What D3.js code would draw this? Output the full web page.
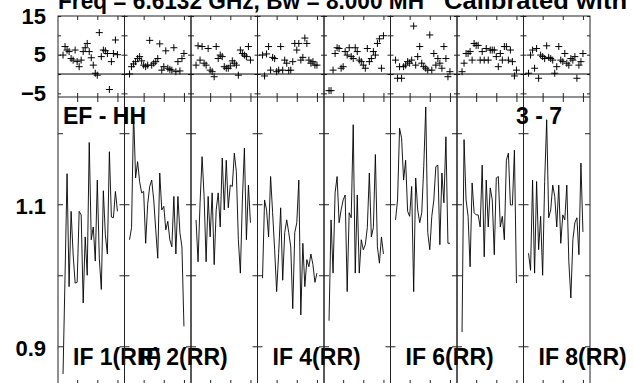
<!DOCTYPE html>
<html>
<head>
<meta charset="utf-8">
<script src="https://cdn.jsdelivr.net/npm/d3@7"></script>
<style>
  body { margin: 0; background: #fff; }
  text { font-family: "Liberation Sans", Arial, Helvetica, sans-serif; font-weight: bold; fill: #000; }
</style>
</head>
<body>
<svg id="chart" width="634" height="383"></svg>
<script>
// channels plotted in every IF (edge channels flagged)
var channels = d3.range(3, 31)

var ifLabels = ["IF 1(RR)", "IF 2(RR)", "", "IF 4(RR)", "", "IF 6(RR)", "", "IF 8(RR)"]

// phase (degrees) per IF
var phase1 = [4.9, 7.1, 6.2, 5.8, 4.0, 3.6, 6.2, 3.2, 1.9, 3.6, 5.8, 6.8, 7.9, 5.8, 4.2, 2.3, 0.2, -0.3, 10.7, 4.5, 6.2, 6.0, 5.3, -4.0, 3.2, 5.3, 8.8, 5.0]
var phase2 = [0.0, 1.9, 2.6, 3.2, 4.0, 4.5, 3.4, 2.3, 1.9, 2.3, 8.7, 2.3, 2.8, 3.2, 4.0, 7.8, 1.0, 1.9, 6.0, 1.5, 1.2, 1.0, 6.8, 0.6, 3.2, 0.8, 4.0, 5.3]
var phase3 = [2.3, 7.3, 3.6, 7.1, 2.8, 2.3, 6.6, 1.0, 0.6, -0.7, 7.1, 4.0, 4.9, 4.5, 1.9, 1.5, 1.5, 2.1, 3.4, 2.8, 2.3, -0.3, 6.2, 5.3, 4.9, 4.5, 7.1, 3.6]
var phase4 = [4.9, -0.5, 5.2, 7.1, 1.0, 4.3, 4.0, 0.6, 1.0, 7.1, 1.0, 3.6, 2.8, 0.9, 1.0, 3.2, 7.9, 6.2, 7.9, 3.6, 4.3, 9.3, 7.9, 3.6, 2.8, 3.2, 2.3, 2.3]
var phase5 = [-4.3, -4.3, 1.0, 5.3, 6.8, 6.6, 1.5, 1.9, 5.8, 4.9, 6.8, 4.5, 4.0, 6.8, 5.8, 3.6, 3.2, 2.3, 1.5, 6.6, 3.2, 4.0, 5.8, 4.9, 7.9, 9.1, 1.5, 9.9]
var phase6 = [3.6, -1.1, 1.9, -1.1, 1.9, 2.3, 3.2, 2.8, 3.6, 12.4, 2.3, 4.5, 7.1, 2.8, 1.9, 1.5, 1.0, 10.1, 1.0, 5.3, 2.3, 4.0, 2.8, 1.5, 7.1, 4.0, -0.7, 0.6]
var phase7 = [0.6, 2.8, 5.3, 5.3, 5.8, 3.6, 7.9, 7.4, 7.4, 3.6, 5.8, 3.6, 6.6, 3.6, 6.2, 6.2, 6.2, 4.5, 1.9, 5.3, 3.6, 7.1, 7.1, 3.6, 6.2, 3.2, -0.5, 1.0]
var phase8 = [0.2, 4.9, 6.2, 1.5, 6.6, -1.1, 4.9, 4.5, 4.0, 7.3, 4.3, 4.0, 3.6, 0.2, 1.9, 7.1, 3.6, 3.2, 5.3, 2.8, 2.3, 4.0, 3.6, 4.5, -1.1, 2.3, 3.2, 5.3]

// amplitude per IF
var amp1 = [0.861, 1.00, 1.143, 0.984, 1.09, 1.03, 0.989, 0.99, 1.09, 1.085, 0.961, 1.054, 1.00, 1.187, 1.05, 1.068, 1.02, 1.134, 1.024, 0.98, 1.119, 1.057, 1.03, 1.174, 1.082, 1.081, 1.118, 1.09]
var amp2 = [1.05, 1.067, 1.23, 1.137, 1.16, 1.132, 1.116, 1.118, 1.045, 1.10, 1.125, 1.134, 1.106, 1.064, 1.024, 1.144, 1.092, 1.097, 1.064, 1.076, 1.05, 1.04, 1.111, 1.03, 1.111, 1.06, 1.04, 0.928]
var amp3 = [1.078, 1.019, 1.102, 1.167, 1.111, 1.019, 1.111, 1.054, 1.116, 1.015, 1.092, 1.116, 1.068, 1.165, 1.092, 1.162, 1.095, 1.127, 1.125, 1.172, 1.146, 1.05, 1.003, 1.106, 1.179, 1.05, 1.127, 1.074]
var amp4 = [0.996, 1.106, 1.092, 1.054, 1.139, 1.088, 1.036, 0.977, 1.031, 1.095, 0.993, 1.06, 1.078, 1.06, 1.04, 0.953, 1.06, 1.074, 1.134, 0.944, 1.045, 0.984, 1.022, 1.012, 1.03, 1.015, 0.99, 1.003]
var amp5 = [0.936, 1.078, 1.003, 1.116, 1.139, 1.074, 1.092, 1.106, 1.113, 0.977, 1.088, 1.081, 1.212, 1.003, 1.113, 1.003, 1.05, 1.036, 1.043, 1.067, 1.144, 1.054, 1.067, 1.17, 1.04, 1.017, 1.054, 1.03]
var amp6 = [1.078, 1.106, 1.207, 1.193, 1.134, 1.162, 1.09, 1.083, 1.125, 0.977, 1.137, 1.092, 1.074, 1.088, 1.153, 1.237, 1.06, 1.036, 1.083, 1.106, 1.153, 1.155, 1.043, 1.144, 1.102, 1.195, 1.045, 1.045]
var amp7 = [0.92, 1.191, 1.106, 1.083, 1.012, 1.13, 1.088, 1.085, 1.085, 1.068, 1.155, 1.026, 1.134, 1.068, 1.123, 1.106, 1.029, 1.137, 1.139, 1.068, 1.083, 1.05, 1.162, 1.172, 1.099, 1.099, 1.176, 0.989]
var amp8 = [1.031, 1.007, 1.134, 1.003, 1.132, 1.036, 1.083, 1.0, 1.132, 1.219, 1.081, 1.092, 1.127, 1.111, 1.068, 1.127, 1.045, 1.085, 1.078, 1.127, 1.019, 0.968, 1.05, 1.074, 1.081, 1.029, 1.158, 1.061]

var phases = [phase1, phase2, phase3, phase4, phase5, phase6, phase7, phase8]
var amps = [amp1, amp2, amp3, amp4, amp5, amp6, amp7, amp8]

var phaseTicks = [-5, 0, 5, 10, 15]
var phaseLabels = [15, 5, -5]
var ampTicks = [0.9, 1.0, 1.1, 1.2]
var ampLabels = [1.1, 0.9]
var chanTicks = [10, 20, 30]

var svg = d3.select("#chart")
var left = 58, panelW = 66.5
var top1 = 16, mid = 97, bot = 385

var yPhase = d3.scaleLinear().domain([-5.94, 15]).range([mid, top1])
var yAmp = d3.scaleLinear().domain([0.8455, 1.251]).range([bot, mid])

svg.append("rect").attr("width", 634).attr("height", 383).attr("fill", "#fff")

function noLabels(axis) { return axis.tickFormat("") }
function strip(g) { g.select(".domain").remove(); g.selectAll("line").attr("stroke", "#222") }

phases.forEach(function(ph, i) {
  var x0 = left + i * panelW
  var x = d3.scaleLinear().domain([0.5, 33.5]).range([x0, x0 + panelW])
  var g = svg.append("g")

  // ticks, all pointing inward
  g.append("g").attr("transform", "translate(0," + top1 + ")")
    .call(noLabels(d3.axisBottom(x).tickValues(chanTicks).tickSize(4))).call(strip)
  g.append("g").attr("transform", "translate(0," + mid + ")")
    .call(noLabels(d3.axisTop(x).tickValues(chanTicks).tickSize(4))).call(strip)
  g.append("g").attr("transform", "translate(0," + mid + ")")
    .call(noLabels(d3.axisBottom(x).tickValues(chanTicks).tickSize(5))).call(strip)
  g.append("g").attr("transform", "translate(0," + bot + ")")
    .call(noLabels(d3.axisTop(x).tickValues(chanTicks).tickSize(5))).call(strip)
  g.append("g").attr("transform", "translate(" + x0 + ",0)")
    .call(noLabels(d3.axisRight(yPhase).tickValues(phaseTicks).tickSize(3))).call(strip)
  g.append("g").attr("transform", "translate(" + (x0 + panelW) + ",0)")
    .call(noLabels(d3.axisLeft(yPhase).tickValues(phaseTicks).tickSize(3))).call(strip)
  g.append("g").attr("transform", "translate(" + x0 + ",0)")
    .call(noLabels(d3.axisRight(yAmp).tickValues(ampTicks).tickSize(5))).call(strip)
  g.append("g").attr("transform", "translate(" + (x0 + panelW) + ",0)")
    .call(noLabels(d3.axisLeft(yAmp).tickValues(ampTicks).tickSize(5))).call(strip)

  // zero phase line
  g.append("line")
    .attr("x1", x0).attr("x2", x0 + panelW)
    .attr("y1", yPhase(0)).attr("y2", yPhase(0))
    .attr("stroke", "#000")

  // phase crosses
  g.selectAll("path.cross")
    .data(ph)
    .enter()
    .append("path")
      .attr("class", "cross")
      .attr("d", function(d, j) {
        var cx = x(channels[j]), cy = yPhase(d)
        return "M" + (cx - 3.5) + "," + cy + "h7M" + cx + "," + (cy - 3.5) + "v7"
      })
      .attr("stroke", "#000")
      .attr("stroke-width", 1)

  // amplitude line
  var line = d3.line()
    .x(function(d, j) { return x(channels[j]) })
    .y(function(d) { return yAmp(d) })
  g.append("path")
    .datum(amps[i])
    .attr("d", line)
    .attr("fill", "none")
    .attr("stroke", "#000")
    .attr("stroke-width", 0.9)

  // panel frame
  g.append("rect")
    .attr("x", x0).attr("y", top1)
    .attr("width", panelW).attr("height", bot - top1)
    .attr("fill", "none").attr("stroke", "#222")
  g.append("line")
    .attr("x1", x0).attr("x2", x0 + panelW)
    .attr("y1", mid).attr("y2", mid)
    .attr("stroke", "#222")

  if (ifLabels[i]) {
    g.append("text")
      .attr("x", x0 + 15)
      .attr("y", 365)
      .style("font-size", "23px")
      .text(ifLabels[i])
  }
})

// left axis labels
svg.append("g").attr("transform", "translate(" + left + ",0)")
  .call(d3.axisLeft(yPhase).tickValues(phaseLabels).tickSize(0).tickPadding(12))
  .call(function(g) { g.select(".domain").remove() })
  .selectAll("text").style("font-size", "22px").attr("fill", "#000")
svg.append("g").attr("transform", "translate(" + left + ",2)")
  .call(d3.axisLeft(yAmp).tickValues(ampLabels).tickSize(0).tickPadding(12).tickFormat(d3.format(".1f")))
  .call(function(g) { g.select(".domain").remove() })
  .selectAll("text").style("font-size", "22px").attr("fill", "#000")

// title (clipped at the top of the page)
svg.append("text")
  .attr("x", 58).attr("y", 8.5)
  .attr("textLength", 366).attr("lengthAdjust", "spacingAndGlyphs")
  .style("font-size", "23px")
  .text("Freq = 6.6132 GHz, Bw = 8.000 MH")
svg.append("text")
  .attr("x", 444).attr("y", 8.5)
  .attr("textLength", 183).attr("lengthAdjust", "spacingAndGlyphs")
  .style("font-size", "23px")
  .text("Calibrated with")

svg.append("text")
  .attr("x", 63).attr("y", 124)
  .style("font-size", "23px")
  .text("EF - HH")
svg.append("text")
  .attr("x", 562).attr("y", 124)
  .attr("text-anchor", "end")
  .style("font-size", "23px")
  .text("3 - 7")
</script>
</body>
</html>
